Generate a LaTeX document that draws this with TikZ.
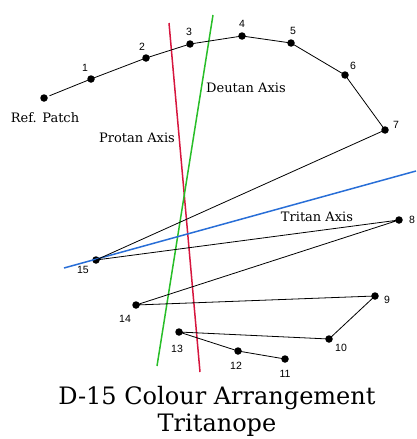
\documentclass[tikz,border=0pt]{standalone}
\usepackage{fontspec}
\setmainfont{DejaVu Serif}
\newfontfamily\numfont{Liberation Sans}
\definecolor{protred}{RGB}{214,22,62}
\definecolor{deutgreen}{RGB}{40,190,40}
\definecolor{tritblue}{RGB}{40,110,215}
\begin{document}
\begin{tikzpicture}[x=1pt,y=-1pt,
  capdot/.style={circle,fill=black,inner sep=0pt,minimum size=7.5pt},
  num/.style={font=\numfont\fontsize{10.5}{11}\selectfont,inner sep=0pt},
  axislabel/.style={font=\fontsize{13}{14}\selectfont,inner sep=0pt},
  titletext/.style={font=\fontsize{24}{27}\selectfont,inner sep=0pt},
  seq/.style={draw=black,line width=0.8pt},
  axisline/.style={line width=1.5pt}]
\useasboundingbox (0,0) rectangle (416,439);
% caps
\node[capdot] (r) at (44,98) {};
\node[capdot] (c1) at (91,79) {};
\node[capdot] (c2) at (146,58) {};
\node[capdot] (c3) at (190,44) {};
\node[capdot] (c4) at (242,36) {};
\node[capdot] (c5) at (291,43) {};
\node[capdot] (c6) at (345,75) {};
\node[capdot] (c7) at (385,130) {};
\node[capdot] (c8) at (399,220) {};
\node[capdot] (c9) at (375,296) {};
\node[capdot] (c10) at (329,339) {};
\node[capdot] (c11) at (285,359) {};
\node[capdot] (c12) at (238,351) {};
\node[capdot] (c13) at (179,332) {};
\node[capdot] (c14) at (136,305) {};
\node[capdot] (c15) at (96,260) {};
% axes
\coordinate (pt) at (169,23); \coordinate (pb) at (200,372);
\coordinate (dt) at (213,15); \coordinate (db) at (157,366);
\coordinate (tl) at (64,268); \coordinate (tr) at (416,171);
\draw[axisline,protred] (pt) -- (pb);
\draw[axisline,deutgreen] (dt) -- (db);
\draw[axisline,tritblue] (tl) -- (tr);
% sequence
\draw[seq,shorten <=6pt] (r.center) -- (c1.center);
\draw[seq] (c1.center) -- (c2.center) -- (c3.center) -- (c4.center) -- (c5.center)
  -- (c6.center) -- (c7.center) -- (c15.center) -- (c8.center) -- (c14.center)
  -- (c9.center) -- (c10.center) -- (c13.center) -- (c12.center) -- (c11.center);
% numbers
\node[num] (n1) at (85,68) {1};
\node[num] (n2) at (142,47) {2};
\node[num] (n3) at (189,32) {3};
\node[num] (n4) at (242,24) {4};
\node[num] (n5) at (293,31) {5};
\node[num] (n6) at (353,66) {6};
\node[num] (n7) at (396,125) {7};
\node[num] (n8) at (412,220) {8};
\node[num] (n9) at (387,300) {9};
\node[num] (n10) at (341,348) {10};
\node[num] (n11) at (285,374) {11};
\node[num] (n12) at (236,366) {12};
\node[num] (n13) at (177,349) {13};
\node[num] (n14) at (125,319) {14};
\node[num] (n15) at (83,270) {15};
% axis labels
\node[axislabel] (lref) at (45,118) {Ref. Patch};
\node[axislabel] (lprot) at (137,138) {Protan Axis};
\node[axislabel] (ldeut) at (246,88) {Deutan Axis};
\node[axislabel] (ltrit) at (317,217) {Tritan Axis};
% title
\node[titletext] (t1) at (217,398) {D-15 Colour Arrangement};
\node[titletext] (t2) at (217,425) {Tritanope};
\end{tikzpicture}
\end{document}
